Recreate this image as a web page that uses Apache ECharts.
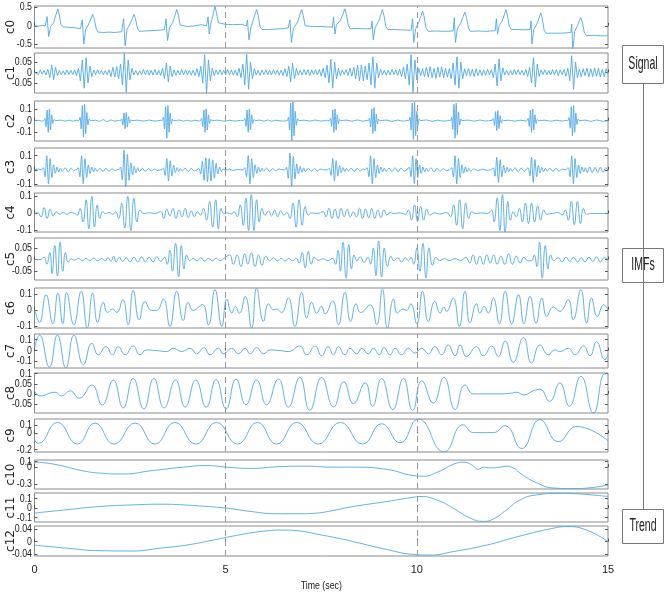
<!DOCTYPE html>
<html>
<head>
<meta charset="utf-8">
<script src="https://cdn.jsdelivr.net/npm/echarts@6/dist/echarts.min.js"></script>
<style>
  html, body { margin: 0; padding: 0; background: #fff; }
  #chart_div { width: 669px; height: 597px; }
</style>
</head>
<body>
<div id="chart_div"></div>
<script>
// 分量名称
var names = ['c0', 'c1', 'c2', 'c3', 'c4', 'c5', 'c6', 'c7', 'c8', 'c9', 'c10', 'c11', 'c12']

// c0 原始信号 [t, v]
var c0 = [[0,0.0],[0.1,-0.01],[0.2,0.01],[0.28,0.0],[0.33,0.25],[0.37,-0.29],[0.42,-0.02],[0.5,0.08],[0.56,0.3],[0.61,0.46],[0.65,0.3],[0.69,0.03],[0.75,-0.03],[0.9,-0.04],[1.05,-0.05],[1.2,-0.08],
  [1.25,0.16],[1.29,-0.49],[1.34,-0.1],[1.42,0.05],[1.48,0.2],[1.52,0.31],[1.56,0.2],[1.61,-0.06],[1.66,-0.17],[1.8,-0.18],[1.95,-0.17],[2.1,-0.18],[2.28,-0.16],
  [2.33,0.19],[2.37,-0.54],[2.42,-0.1],[2.5,0.05],[2.56,0.2],[2.6,0.31],[2.64,0.2],[2.69,-0.06],[2.74,-0.15],[2.9,-0.14],[3.1,-0.13],[3.25,-0.12],[3.4,-0.1],
  [3.44,0.19],[3.48,-0.4],[3.53,-0.05],[3.62,0.1],[3.68,0.3],[3.72,0.44],[3.76,0.3],[3.81,0.02],[3.86,-0.02],[4.0,-0.02],[4.2,0.0],[4.35,0.03],[4.5,0.0],
  [4.54,0.24],[4.57,-0.22],[4.61,0.05],[4.66,0.25],[4.72,0.53],[4.76,0.35],[4.81,0.08],[4.86,0.04],[5.0,0.04],[5.2,0.03],[5.4,0.04],[5.54,0.0],
  [5.57,0.15],[5.61,-0.38],[5.66,-0.05],[5.72,0.15],[5.77,0.32],[5.81,0.44],[5.85,0.28],[5.9,-0.02],[5.95,-0.1],[6.1,-0.1],[6.3,-0.09],[6.5,-0.08],[6.64,-0.05],
  [6.68,0.16],[6.72,-0.45],[6.77,-0.08],[6.88,0.1],[6.94,0.3],[6.99,0.44],[7.03,0.28],[7.08,0.0],[7.13,-0.02],[7.3,-0.02],[7.5,-0.02],[7.7,-0.03],[7.79,-0.04],
  [7.82,0.24],[7.86,-0.22],[7.9,0.03],[8.0,0.15],[8.07,0.32],[8.12,0.46],[8.16,0.3],[8.21,0.0],[8.26,-0.08],[8.4,-0.07],[8.6,-0.08],[8.8,-0.08],
  [8.83,0.13],[8.86,-0.38],[8.91,-0.05],[9.0,0.12],[9.06,0.3],[9.1,0.44],[9.14,0.28],[9.19,-0.02],[9.24,-0.1],[9.4,-0.1],[9.6,-0.11],[9.85,-0.12],
  [9.89,0.19],[9.92,-0.45],[9.97,-0.08],[10.05,0.1],[10.11,0.27],[10.15,0.4],[10.19,0.25],[10.24,-0.06],[10.3,-0.15],[10.5,-0.14],[10.7,-0.15],[10.95,-0.14],
  [10.98,0.22],[11.01,-0.45],[11.06,-0.08],[11.15,0.08],[11.21,0.25],[11.26,0.37],[11.3,0.22],[11.35,-0.06],[11.4,-0.15],[11.6,-0.14],[11.8,-0.15],[12.05,-0.13],
  [12.08,0.19],[12.11,-0.22],[12.15,0.0],[12.23,0.12],[12.29,0.3],[12.33,0.44],[12.37,0.28],[12.42,-0.02],[12.47,-0.1],[12.6,-0.1],[12.8,-0.11],[12.96,-0.1],
  [12.99,0.13],[13.01,-0.49],[13.06,-0.1],[13.14,0.05],[13.2,0.22],[13.24,0.35],[13.28,0.2],[13.33,-0.12],[13.38,-0.2],[13.6,-0.2],[13.8,-0.2],[14.03,-0.18],
  [14.05,0.05],[14.08,-0.63],[14.13,-0.15],[14.2,0.0],[14.25,0.14],[14.29,0.22],[14.33,0.1],[14.38,-0.18],[14.43,-0.26],[14.6,-0.26],[14.8,-0.27],[15.0,-0.27]]

// c1 等间隔采样 (步长 0.05 s)
var c1Step = 0.05
var c1 = [0,.008,-.01,.012,-.008,.01,-.012,.015,-.025,.035,-.035,.025,-.015,.01,-.012,.008,-.01,.012,-.009,.011,
  -.01,.012,-.015,.02,-.04,.06,-.075,.07,-.05,.03,-.02,.012,-.01,.013,-.008,.01,-.012,.009,-.011,.013,
  -.02,.025,-.022,.028,-.03,.04,-.06,.09,-.095,.06,-.035,.02,-.012,.01,-.013,.009,-.011,.014,-.01,.012,
  -.013,.01,-.012,.015,-.012,.01,-.014,.02,-.03,.045,-.045,.03,-.02,.012,-.014,.01,-.012,.015,-.011,.013,
  -.012,.01,-.013,.011,-.015,.018,-.02,.03,-.05,.085,-.1,.06,-.04,.02,-.015,.012,-.01,.013,-.011,.01,
  -.012,.014,-.01,.012,-.013,.011,-.015,.02,-.025,.04,-.06,.087,-.08,.05,-.03,.018,-.012,.01,-.014,.012,
  -.01,.013,-.011,.01,-.012,.014,-.01,.012,-.013,.011,-.015,.018,-.02,.03,-.045,.045,-.03,.02,-.013,.011,
  -.012,.014,-.011,.013,-.015,.012,-.01,.014,-.012,.015,-.018,.02,-.025,.035,-.05,.063,-.075,.05,-.03,.02,
  -.015,.012,-.01,.013,-.015,.02,-.018,.025,-.03,.035,-.04,.035,-.04,.03,-.035,.045,-.06,.075,-.075,.045,
  -.025,.015,-.012,.01,-.013,.011,-.012,.015,-.01,.012,-.014,.016,-.02,.025,-.03,.04,-.06,.085,-.095,.06,
  -.035,.02,-.015,.018,-.02,.025,-.022,.028,-.025,.02,-.028,.025,-.022,.027,-.025,.02,-.022,.018,-.03,.045,
  -.06,.075,-.075,.05,-.03,.018,-.015,.02,-.018,.015,-.02,.018,-.015,.012,-.014,.011,-.013,.015,-.012,.014,
  -.025,.04,-.065,.065,-.04,.022,-.012,.01,-.013,.011,-.012,.014,-.01,.013,-.011,.01,-.014,.015,-.02,.025,
  -.05,.07,-.07,.04,-.02,.012,-.01,.013,-.011,.01,-.012,.014,-.011,.013,-.015,.012,-.01,.014,-.018,.02,
  -.04,.08,-.08,.05,-.025,.015,-.02,.018,-.015,.02,-.022,.018,-.02,.022,-.018,.02,-.022,.015,-.02,.018,-.01]

var c2 = [[0,0],[0.1,.003],[0.18,-.003],
  [0.24,0],[0.27,.02],[0.3,-.05],[0.33,.09],[0.36,-.1],[0.39,.1],[0.42,-.08],[0.45,.05],[0.48,-.025],[0.51,.01],[0.54,0],
  [0.7,.005],[0.8,-.005],[0.9,.004],[1.0,-.004],[1.1,.003],
  [1.16,0],[1.19,.03],[1.22,-.07],[1.25,.13],[1.28,-.14],[1.31,.14],[1.34,-.11],[1.37,.07],[1.4,-.035],[1.43,.015],[1.46,0],
  [1.6,.004],[1.7,-.006],[1.8,.008],[1.9,-.008],[2.0,.006],[2.1,-.004],[2.2,.002],
  [2.25,0],[2.28,.015],[2.31,-.035],[2.34,.065],[2.37,-.07],[2.4,.07],[2.43,-.055],[2.46,.035],[2.49,-.018],[2.52,.007],[2.55,0],
  [2.7,.004],[2.85,-.004],[3.0,.005],[3.15,-.004],[3.3,.003],
  [3.34,0],[3.37,.03],[3.4,-.07],[3.43,.12],[3.46,-.15],[3.49,.13],[3.52,-.1],[3.55,.065],[3.58,-.03],[3.61,.012],[3.64,0],
  [3.8,.005],[3.9,-.005],[4.0,.004],[4.1,-.005],[4.2,.004],[4.3,-.003],
  [4.34,0],[4.37,.02],[4.4,-.05],[4.43,.09],[4.46,-.1],[4.49,.1],[4.52,-.08],[4.55,.05],[4.58,-.025],[4.61,.01],[4.64,0],
  [4.8,.004],[4.95,-.005],[5.1,.004],[5.25,-.004],[5.4,.003],
  [5.47,0],[5.5,.02],[5.53,-.05],[5.56,.09],[5.59,-.1],[5.62,.1],[5.65,-.08],[5.68,.05],[5.71,-.025],[5.74,.01],[5.77,0],
  [5.9,.005],[6.0,-.005],[6.1,.006],[6.2,-.005],[6.3,.004],[6.45,-.003],
  [6.61,0],[6.64,.03],[6.67,-.08],[6.7,.15],[6.73,-.17],[6.76,.16],[6.79,-.13],[6.82,.08],[6.85,-.04],[6.88,.016],[6.91,0],
  [7.05,.004],[7.2,-.004],[7.35,.005],[7.5,-.004],[7.62,.003],
  [7.71,0],[7.74,.02],[7.77,-.05],[7.8,.09],[7.83,-.1],[7.86,.1],[7.89,-.08],[7.92,.05],[7.95,-.025],[7.98,.01],[8.01,0],
  [8.15,.005],[8.3,-.005],[8.45,.006],[8.6,-.005],[8.7,.003],
  [8.73,0],[8.76,.022],[8.79,-.055],[8.82,.1],[8.85,-.11],[8.88,.11],[8.91,-.09],[8.94,.055],[8.97,-.028],[9.0,.011],[9.03,0],
  [9.2,.005],[9.35,-.006],[9.5,.005],[9.65,-.005],[9.75,.003],
  [9.79,0],[9.82,.03],[9.85,-.08],[9.88,.15],[9.91,-.16],[9.94,.16],[9.97,-.13],[10.0,.08],[10.03,-.04],[10.06,.016],[10.09,0],
  [10.25,.006],[10.4,-.006],[10.55,.005],[10.7,-.005],[10.85,.003],
  [10.88,0],[10.91,.03],[10.94,-.075],[10.97,.14],[11.0,-.15],[11.03,.15],[11.06,-.12],[11.09,.075],[11.12,-.038],[11.15,.015],[11.18,0],
  [11.35,.005],[11.5,-.005],[11.65,.005],[11.8,-.004],[11.95,.003],
  [11.97,0],[12.0,.017],[12.03,-.043],[12.06,.077],[12.09,-.085],[12.12,.085],[12.15,-.068],[12.18,.043],[12.21,-.021],[12.24,.009],[12.27,0],
  [12.4,.004],[12.55,-.004],[12.7,.004],[12.85,-.003],
  [12.88,0],[12.91,.02],[12.94,-.05],[12.97,.09],[13.0,-.1],[13.03,.1],[13.06,-.08],[13.09,.05],[13.12,-.025],[13.15,.01],[13.18,0],
  [13.35,.004],[13.5,-.005],[13.65,.004],[13.8,-.004],[13.93,.003],
  [13.95,0],[13.98,.026],[14.01,-.065],[14.04,.12],[14.07,-.13],[14.1,.13],[14.13,-.1],[14.16,.065],[14.19,-.033],[14.22,.013],[14.25,0],
  [14.4,.005],[14.55,-.006],[14.7,.006],[14.85,-.005],[15,0]]

var c3 = [[0,0],[0.1,.005],[0.185,0],[0.23,.015],[0.275,-.05],[0.32,.1],[0.365,-.1],[0.41,.08],[0.455,-.055],[0.5,.035],[0.545,-.025],[0.59,.02],[0.635,-.015],[0.68,.012],[0.725,-.01],
  [0.8,.015],[0.88,-.015],[0.96,.012],[1.03,-.008],[1.07,0],
  [1.095,0],[1.14,.015],[1.185,-.05],[1.23,.1],[1.275,-.1],[1.32,.08],[1.365,-.055],[1.41,.035],[1.455,-.025],[1.5,.02],[1.545,-.015],[1.59,.012],[1.635,-.01],
  [1.71,.012],[1.79,-.012],[1.87,.01],[1.95,-.01],[2.03,.008],[2.11,-.006],[2.19,.004],
  [2.205,0],[2.25,.02],[2.295,-.07],[2.34,.14],[2.385,-.13],[2.43,.11],[2.475,-.075],[2.52,.05],[2.565,-.035],[2.61,.025],[2.655,-.02],[2.7,.015],[2.745,-.012],
  [2.82,.01],[2.9,-.01],[2.98,.008],[3.06,-.008],[3.14,.006],[3.22,-.005],[3.3,0],
  [3.325,0],[3.37,.012],[3.415,-.04],[3.46,.08],[3.505,-.08],[3.55,.065],[3.595,-.045],[3.64,.03],[3.685,-.02],[3.73,.016],[3.775,-.012],[3.82,.01],[3.865,-.008],
  [3.94,.012],[4.02,-.012],[4.1,.01],[4.18,-.008],[4.25,0],
  [4.3,.01],[4.345,-.03],[4.39,.06],[4.435,-.075],[4.48,.085],[4.525,-.085],[4.57,.08],[4.615,-.08],[4.66,.07],[4.705,-.06],[4.75,.045],[4.795,-.03],[4.84,.02],[4.885,-.012],[4.93,.006],
  [5.0,0],[5.1,.004],[5.2,-.004],[5.3,.003],[5.4,0],
  [5.455,0],[5.5,.015],[5.545,-.05],[5.59,.1],[5.635,-.1],[5.68,.08],[5.725,-.055],[5.77,.035],[5.815,-.025],[5.86,.02],[5.905,-.015],[5.95,.012],[5.995,-.01],
  [6.07,.012],[6.15,-.012],[6.23,.01],[6.31,-.008],[6.39,.006],[6.47,0],
  [6.545,0],[6.59,.018],[6.635,-.06],[6.68,.12],[6.725,-.12],[6.77,.095],[6.815,-.065],[6.86,.042],[6.905,-.03],[6.95,.024],[6.995,-.018],[7.04,.014],[7.085,-.012],
  [7.16,.01],[7.24,-.01],[7.32,.008],[7.4,-.006],[7.48,.005],[7.56,0],
  [7.665,0],[7.71,.012],[7.755,-.04],[7.8,.08],[7.845,-.08],[7.89,.065],[7.935,-.045],[7.98,.03],[8.025,-.02],[8.07,.016],[8.115,-.012],[8.16,.01],[8.205,-.008],
  [8.28,.012],[8.36,-.012],[8.44,.01],[8.52,-.008],[8.6,.005],[8.65,0],
  [8.655,0],[8.7,.015],[8.745,-.05],[8.79,.1],[8.835,-.1],[8.88,.08],[8.925,-.055],[8.97,.035],[9.015,-.025],[9.06,.02],[9.105,-.015],[9.15,.012],[9.195,-.01],
  [9.27,.012],[9.35,-.012],[9.43,.015],[9.51,-.015],[9.59,.012],[9.67,-.01],[9.74,0],
  [9.755,0],[9.8,.02],[9.845,-.05],[9.89,.1],[9.935,-.1],[9.98,.08],[10.025,-.055],[10.07,.035],[10.115,-.025],[10.16,.02],[10.205,-.015],[10.25,.012],[10.295,-.01],
  [10.37,.015],[10.45,-.015],[10.53,.012],[10.61,-.01],[10.69,.008],[10.77,-.005],[10.86,0],
  [10.865,0],[10.91,.015],[10.955,-.05],[11.0,.1],[11.045,-.1],[11.09,.08],[11.135,-.055],[11.18,.035],[11.225,-.025],[11.27,.02],[11.315,-.015],[11.36,.012],[11.405,-.01],
  [11.48,.006],[11.6,-.005],[11.72,.005],[11.84,-.004],[11.95,0],
  [11.955,0],[12.0,.014],[12.045,-.045],[12.09,.09],[12.135,-.09],[12.18,.072],[12.225,-.05],[12.27,.032],[12.315,-.022],[12.36,.018],[12.405,-.014],[12.45,.011],[12.495,-.009],
  [12.57,.015],[12.65,-.015],[12.73,.012],[12.81,-.01],[12.85,0],
  [12.865,0],[12.91,.014],[12.955,-.045],[13.0,.09],[13.045,-.09],[13.09,.072],[13.135,-.05],[13.18,.032],[13.225,-.022],[13.27,.018],[13.315,-.014],[13.36,.011],[13.405,-.009],
  [13.48,.012],[13.56,-.012],[13.64,.01],[13.72,-.008],[13.8,.005],[13.9,0],
  [13.915,0],[13.96,.015],[14.005,-.05],[14.05,.1],[14.095,-.1],[14.14,.08],[14.185,-.055],[14.23,.035],[14.275,-.025],[14.32,.02],[14.365,-.015],[14.41,.015],[14.455,-.02],
  [14.52,.02],[14.59,-.02],[14.66,.018],[14.73,-.02],[14.8,.02],[14.87,-.018],[14.94,.015],[15,0]]

var c4 = [[0,0],[0.08,0.005],[0.17,-0.02],[0.25,0.035],[0.33,-0.03],[0.41,0.025],[0.49,-0.015],[0.57,0.01],[0.65,-0.005],[0.75,0.005],[0.85,-0.005],[0.95,0.005],[1.05,0.0],
  [1.12,-0.01],[1.19,0.03],[1.27,-0.05],[1.35,0.08],[1.42,-0.09],[1.5,0.1],[1.57,-0.08],[1.64,0.05],[1.71,-0.03],[1.78,0.01],[1.86,0.0],[1.95,0.005],[2.05,-0.005],[2.12,0.01],
  [2.2,-0.03],[2.28,0.06],[2.36,-0.085],[2.44,0.1],[2.52,-0.1],[2.6,0.09],[2.68,-0.05],[2.76,0.02],[2.85,0.0],[3.0,0.003],[3.15,0.0],
  [3.3,0.01],[3.38,-0.03],[3.46,0.025],[3.54,-0.015],[3.62,0.03],[3.7,-0.03],[3.78,0.02],[3.86,-0.02],[3.94,0.03],[4.02,-0.025],[4.1,0.015],[4.18,-0.02],[4.26,0.01],[4.34,-0.01],
  [4.42,0.03],[4.5,-0.04],[4.58,0.07],[4.66,-0.08],[4.74,0.08],[4.81,-0.09],[4.88,0.03],[4.95,0.0],[5.05,0.003],[5.15,-0.003],[5.22,0.01],
  [5.3,-0.02],[5.38,0.05],[5.46,-0.07],[5.53,0.09],[5.6,-0.1],[5.67,0.11],[5.74,-0.1],[5.81,0.08],[5.88,-0.05],[5.95,0.03],[6.03,-0.01],
  [6.12,0.015],[6.2,-0.015],[6.28,0.02],[6.36,-0.02],[6.44,0.015],[6.52,-0.01],[6.6,0.005],
  [6.68,-0.03],[6.76,0.06],[6.84,-0.08],[6.92,0.08],[7.0,-0.07],[7.08,0.04],[7.16,-0.01],[7.25,0.003],[7.4,0.0],[7.55,0.01],
  [7.62,-0.02],[7.7,0.03],[7.78,-0.03],[7.86,0.025],[7.94,-0.03],[8.02,0.03],[8.1,-0.02],[8.18,0.025],[8.26,-0.02],[8.34,0.01],
  [8.42,-0.02],[8.5,0.03],[8.58,-0.03],[8.66,0.025],[8.74,-0.025],[8.82,0.03],[8.9,-0.03],[8.98,0.02],[9.06,-0.025],[9.14,0.02],[9.22,-0.01],[9.3,0.005],
  [9.4,0.0],[9.55,0.003],[9.7,-0.005],
  [9.78,0.02],[9.86,-0.04],[9.94,0.05],[10.02,-0.045],[10.1,0.04],[10.18,-0.04],[10.26,0.025],[10.34,-0.01],
  [10.45,0.003],[10.6,-0.003],[10.78,0.005],
  [10.88,-0.02],[10.96,0.05],[11.04,-0.07],[11.12,0.08],[11.2,-0.09],[11.28,0.06],[11.36,-0.03],[11.44,0.01],
  [11.55,0.0],[11.7,0.003],[11.85,0.0],
  [11.95,0.02],[12.02,-0.05],[12.1,0.09],[12.17,-0.1],[12.24,0.11],[12.31,-0.11],[12.38,0.07],[12.45,-0.04],[12.52,0.01],
  [12.6,-0.02],[12.68,0.03],[12.76,-0.05],[12.84,0.06],[12.92,-0.06],[13.0,0.06],[13.08,-0.05],[13.16,0.045],[13.24,-0.04],[13.32,0.02],[13.4,-0.005],
  [13.55,0.0],[13.7,0.005],[13.8,-0.01],
  [13.88,0.02],[13.96,-0.04],[14.04,0.07],[14.12,-0.065],[14.2,0.07],[14.28,-0.06],[14.36,0.03],[14.44,-0.005],[14.55,0.0],[15,0.0]]

var c5 = [[0,0],[0.15,0],[0.25,0.01],[0.32,-0.02],[0.4,0.03],[0.46,-0.06],[0.53,0.06],[0.6,-0.07],[0.67,0.075],[0.74,-0.05],[0.81,0.03],[0.88,-0.01],[0.96,0.003],
  [1.05,-0.003],[1.15,0.005],[1.25,-0.005],[1.35,0.005],[1.45,-0.005],[1.55,0.006],[1.65,-0.006],[1.75,0.004],[1.85,-0.005],
  [1.92,0.008],[2.0,-0.008],[2.07,0.015],[2.14,-0.01],[2.22,0.01],[2.3,-0.008],[2.4,0.008],[2.5,-0.01],[2.6,0.01],[2.7,-0.01],[2.8,0.012],[2.9,-0.01],[3.0,0.01],[3.1,-0.01],[3.2,0.012],[3.3,-0.008],
  [3.4,0.01],[3.47,-0.02],[3.54,0.04],[3.61,-0.05],[3.69,0.07],[3.77,-0.075],[3.84,0.06],[3.91,-0.04],[3.98,0.02],[4.06,-0.005],
  [4.15,0.006],[4.25,-0.006],[4.35,0.008],[4.45,-0.006],[4.55,0.005],[4.65,-0.006],[4.75,0.006],[4.85,-0.005],[4.95,0.004],
  [5.1,0.02],[5.2,-0.02],[5.3,0.02],[5.4,-0.03],[5.5,0.025],[5.58,-0.02],[5.67,0.03],[5.77,-0.03],[5.86,0.02],[5.95,-0.025],[6.05,0.015],
  [6.15,-0.005],[6.25,0.008],[6.35,-0.005],[6.45,0.005],[6.55,-0.006],[6.65,0.005],[6.75,-0.005],[6.85,0.005],
  [6.92,-0.015],[7.0,0.03],[7.08,-0.035],[7.16,0.035],[7.24,-0.02],[7.32,0.01],[7.42,-0.003],[7.55,0.003],[7.68,-0.004],
  [7.8,0.005],[7.87,-0.02],[7.94,0.04],[8.0,-0.05],[8.07,0.075],[8.15,-0.08],[8.22,0.065],[8.29,-0.04],[8.36,0.02],[8.43,-0.005],
  [8.52,0.012],[8.62,-0.012],[8.72,0.01],
  [8.79,-0.02],[8.86,0.05],[8.93,-0.07],[9.0,0.08],[9.08,-0.075],[9.15,0.05],[9.23,-0.03],[9.32,0.015],[9.4,-0.005],
  [9.5,0.008],[9.6,-0.01],[9.7,0.008],[9.78,-0.005],
  [9.85,0.01],[9.92,-0.02],[10.0,0.05],[10.08,-0.05],[10.16,0.07],[10.24,-0.08],[10.32,0.05],[10.41,-0.025],[10.5,0.01],[10.6,-0.005],
  [10.72,0.004],[10.85,-0.004],[11.0,0.004],[11.15,-0.004],[11.28,0.01],
  [11.38,-0.015],[11.47,0.02],[11.56,-0.02],[11.65,0.015],[11.74,-0.02],[11.83,0.02],[11.92,-0.015],[12.01,0.02],[12.1,-0.02],[12.2,0.015],[12.3,-0.02],[12.4,0.025],[12.5,-0.02],[12.6,0.015],[12.7,-0.015],[12.8,0.01],[12.9,-0.005],
  [13.0,-0.005],[13.07,0.02],[13.14,-0.03],[13.21,0.075],[13.28,-0.08],[13.36,0.06],[13.43,-0.04],[13.5,0.02],[13.58,-0.005],
  [13.7,0.008],[13.8,-0.01],[13.9,0.01],[14.0,-0.008],[14.1,0.01],[14.2,-0.01],[14.3,0.008],[14.4,-0.01],[14.5,0.01],[14.6,-0.008],[14.7,0.012],[14.8,-0.01],[14.9,0.008],[15,0.0]]

var c6 = [[0.01,0],[0.13,-0.079],[0.3,0.094],[0.48,-0.0875],[0.61,0.104],[0.74,-0.0875],[0.84,0.108],[1.03,-0.094],[1.22,0.115],[1.38,-0.115],[1.52,0.104],[1.65,-0.079],
  [1.8,0.046],[1.91,-0.017],[2.04,0.004],[2.15,-0.017],[2.31,0.0625],[2.45,-0.094],[2.58,0.121],[2.74,-0.0625],[2.89,0.052],[3.06,-0.004],[3.19,-0.004],
  [3.37,0.067],[3.54,-0.104],[3.72,0.115],[3.89,-0.067],[4.02,0.046],[4.15,-0.004],[4.39,0.033],[4.55,-0.094],[4.72,0.125],[4.9,-0.104],[5.03,0.067],
  [5.16,-0.021],[5.25,0.021],[5.36,-0.021],[5.51,0.083],[5.68,-0.115],[5.81,0.135],[5.99,-0.073],[6.12,0.0375],[6.25,0],[6.33,0.004],[6.46,-0.017],
  [6.64,0.073],[6.81,-0.104],[6.99,0.108],[7.12,-0.052],[7.25,0.046],[7.38,-0.021],[7.51,0.021],[7.6,-0.025],[7.8,0.056],[7.95,-0.094],[8.12,0.108],
  [8.27,-0.073],[8.41,0.0375],[8.53,-0.017],[8.78,0.031],[8.95,-0.094],[9.1,0.129],[9.23,-0.115],[9.39,0.067],[9.49,-0.021],[9.63,0.004],[9.73,-0.004],
  [9.84,0.0375],[10.0,-0.0875],[10.15,0.115],[10.3,-0.073],[10.47,0.052],[10.61,-0.021],[10.71,0.017],[10.78,-0.01],[10.95,0.073],[11.11,-0.104],
  [11.26,0.115],[11.39,-0.083],[11.56,0.0375],[11.65,-0.021],[11.76,0.021],[11.87,-0.021],[12.0,0.073],[12.16,-0.0875],[12.31,0.115],[12.48,-0.0875],
  [12.66,0.094],[12.8,-0.0875],[12.96,0.083],[13.12,-0.083],[13.27,0.073],[13.4,-0.042],[13.57,0.017],[13.74,-0.01],[13.96,0.0625],[14.09,-0.0625],
  [14.29,0.125],[14.44,-0.083],[14.57,0.073],[14.72,-0.042],[14.89,0.031],[15.0,0]]

var c7 = [[0,0.02],[0.13,0.142],[0.39,-0.152],[0.6,0.142],[0.82,-0.16],[1.03,0.142],[1.28,-0.13],[1.5,0.067],[1.67,-0.039],[1.87,0.036],[2.04,-0.039],
  [2.19,0.036],[2.37,-0.039],[2.58,0.042],[2.76,-0.039],[2.93,0.006],[3.19,0],[3.46,-0.009],[3.63,0.021],[3.85,-0.009],[4.07,0.021],[4.24,-0.03],
  [4.43,0.027],[4.59,-0.039],[4.81,0.021],[4.94,-0.03],[5.16,0.021],[5.33,-0.03],[5.51,0.021],[5.64,-0.03],[5.81,0.027],[5.99,-0.03],[6.16,0.006],
  [6.42,0],[6.64,-0.009],[6.94,0.042],[7.12,-0.039],[7.34,0.042],[7.51,-0.048],[7.68,0.036],[7.82,-0.039],[7.95,0.036],[8.12,-0.039],[8.25,0.021],
  [8.43,-0.03],[8.56,0.021],[8.73,-0.03],[8.86,0.021],[9.02,-0.039],[9.14,0.027],[9.3,-0.039],[9.43,0.021],[9.6,-0.039],[9.78,0.021],[9.95,-0.024],
  [10.13,0.021],[10.3,-0.03],[10.47,0.036],[10.65,-0.039],[10.82,0.052],[11.0,-0.048],[11.13,0.052],[11.3,-0.055],[11.56,0.036],[11.74,-0.048],
  [11.96,0.042],[12.13,-0.055],[12.31,0.088],[12.52,-0.109],[12.79,0.121],[13.0,-0.115],[13.22,0.052],[13.44,-0.039],[13.61,0.006],[13.74,-0.009],
  [13.96,0.021],[14.14,-0.039],[14.36,0.042],[14.53,-0.048],[14.7,0.082],[14.92,-0.085],[15.0,-0.039]]

var c8 = [[0,0.016],[0.14,-0.01],[0.54,0.008],[0.71,-0.01],[0.93,0.015],[1.17,-0.021],[1.5,0.044],[1.77,-0.055],[2.06,0.068],[2.32,-0.069],[2.58,0.076],
  [2.86,-0.074],[3.12,0.076],[3.39,-0.069],[3.69,0.068],[3.94,-0.065],[4.22,0.068],[4.49,-0.065],[4.75,0.071],[5.01,-0.074],[5.27,0.073],[5.53,-0.053],
  [5.81,0.068],[6.07,-0.053],[6.38,0.073],[6.64,-0.065],[6.94,0.081],[7.2,-0.081],[7.51,0.081],[7.82,-0.065],[8.09,0.06],[8.34,-0.048],[8.65,0.055],
  [8.84,-0.061],[9.08,0.076],[9.37,-0.077],[9.65,0.076],[9.89,-0.081],[10.13,0.065],[10.43,-0.045],[10.71,0.081],[11.0,-0.077],[11.26,0.044],[11.48,0],
  [11.83,0],[12.18,0],[12.44,0.003],[12.61,0.008],[12.8,-0.005],[13.05,0.016],[13.22,0.023],[13.47,-0.037],[13.74,0.055],[13.99,-0.061],[14.29,0.087],
  [14.62,-0.094],[14.92,0.1],[15.0,0.1]]

var c9 = [[0,-0.083],[0.1,-0.125],[0.6,0.133],[1.12,-0.133],[1.58,0.125],[2.08,-0.133],[2.63,0.125],[3.15,-0.133],[3.67,0.133],[4.22,-0.133],[4.76,0.133],
  [5.31,-0.133],[5.83,0.133],[6.33,-0.133],[6.86,0.133],[7.42,-0.133],[8.0,0.133],[8.58,-0.133],[9.08,0.117],[9.56,-0.117],[10.04,0.175],[10.71,-0.229],
  [11.21,0.104],[11.48,0.008],[12.0,0.008],[12.31,0.092],[12.74,-0.1875],[13.22,0.167],[13.7,-0.104],[14.18,0.083],[15.0,-0.092]]

var c10 = [[0,0.089],[0.49,0.056],[1.28,-0.067],[1.71,-0.106],[2.32,-0.122],[3.02,-0.067],[3.89,0],[4.5,0.028],[5.03,0],[5.64,-0.022],[6.33,0.006],
  [7.12,0.017],[7.82,0],[8.34,0],[9.21,-0.039],[9.91,-0.15],[10.17,-0.161],[10.52,-0.094],[11.04,0.072],[11.21,0.089],[11.43,0.044],[11.61,-0.039],
  [11.74,0],[11.87,-0.011],[12.04,-0.011],[12.35,0.017],[12.48,0],[12.79,-0.15],[13.13,-0.278],[13.57,-0.372],[14.09,-0.383],[14.62,-0.361],[15.0,-0.317]]

var c11 = [[0,-0.052],[0.84,-0.017],[1.71,0.017],[2.58,0.034],[3.28,0.041],[3.89,0.034],[4.5,0.017],[5.03,0],[5.64,-0.034],[6.33,-0.059],[6.94,-0.059],
  [7.38,-0.052],[7.82,-0.024],[8.34,0.017],[9.21,0.069],[9.91,0.114],[10.08,0.121],[10.52,0.086],[10.95,0],[11.39,-0.103],[11.74,-0.138],[12.0,-0.114],
  [12.35,-0.017],[12.7,0.086],[13.13,0.138],[13.74,0.155],[14.27,0.148],[15.0,0.121]]

var c12 = [[0,-0.011],[0.84,-0.021],[1.71,-0.029],[2.58,-0.03],[3.28,-0.021],[3.98,-0.011],[4.68,0.005],[5.2,0.018],[5.9,0.032],[6.51,0.037],[6.94,0.034],
  [7.47,0.022],[7.9,0.012],[8.34,0],[9.21,-0.025],[9.91,-0.041],[10.34,-0.043],[10.95,-0.032],[11.83,-0.011],[12.7,0.018],[13.57,0.043],[13.92,0.048],
  [14.44,0.037],[15.0,0]]

// 各子图纵轴范围与刻度
var yMin = [-0.6, -0.098, -0.174, -0.115, -0.109, -0.088, -0.114, -0.161, -0.094, -0.23, -0.39, -0.145, -0.046]
var yMax = [0.535, 0.093, 0.168, 0.155, 0.12, 0.093, 0.136, 0.153, 0.103, 0.175, 0.128, 0.158, 0.05]
var yTicks = [[-0.5, 0, 0.5], [-0.05, 0, 0.05], [-0.1, 0, 0.1], [-0.1, 0, 0.1], [-0.1, 0, 0.1], [-0.05, 0, 0.05],
  [-0.1, 0, 0.1], [-0.1, 0, 0.1], [-0.05, 0, 0.05, 0.1], [-0.2, 0, 0.1], [-0.3, 0, 0.1], [-0.1, 0, 0.1], [-0.04, 0, 0.04]]
var dashedAt = [5, 10]

// 布局
var gridTop = [6, 53, 101, 148, 193, 238, 288, 334, 373, 419, 460, 493, 526]
var gridHeight = [42, 40, 40, 38, 39, 42, 40, 34, 40, 33, 29, 29, 30]

var FONT = "'Liberation Sans', Arial, sans-serif"
var LINE = '#4ea8e6'
var BOX = '#8a8a8a'
var TXT = '#222'

function pairs(arr, step) {
  var out = []
  for (var i = 0; i < arr.length; i++) out.push([i * step, arr[i]])
  return out
}

var seriesData = [c0, pairs(c1, c1Step), c2, c3, c4, c5, c6, c7, c8, c9, c10, c11, c12]
var smoothFlag = [false, false, 0.3, 0.3, 0.5, 0.5, 0.5, 0.5, 0.5, 0.5, 0.5, 0.5, 0.5]

function fmt(v) {
  return String(+Number(v).toFixed(3))
}

var grids = [], xAxes = [], yAxes = [], series = []
for (var i = 0; i < names.length; i++) {
  var last = i === names.length - 1
  grids.push({
    left: 34.5, right: 61, top: gridTop[i], height: gridHeight[i],
    containLabel: false, outerBoundsMode: 'none',
    show: true, borderColor: BOX, borderWidth: 1, backgroundColor: '#fff'
  })
  xAxes.push({
    type: 'value', gridIndex: i, min: 0, max: 15, interval: 5,
    axisLine: { show: false },
    axisTick: { show: true, inside: true, length: 3, lineStyle: { color: '#555' } },
    axisLabel: { show: last, margin: 8, fontFamily: FONT, fontSize: 11, color: TXT, formatter: fmt },
    splitLine: { show: false }
  })
  yAxes.push({
    type: 'value', gridIndex: i, min: yMin[i], max: yMax[i], position: 'left',
    axisLine: { show: false },
    axisTick: { show: true, inside: true, length: 3, customValues: yTicks[i], lineStyle: { color: '#555' } },
    axisLabel: { show: false },
    splitLine: { show: false }
  })
}
for (var j = 0; j < names.length; j++) {
  yAxes.push({
    type: 'value', gridIndex: j, min: yMin[j], max: yMax[j], position: 'right',
    axisLine: { show: false },
    axisTick: { show: true, inside: true, length: 3, customValues: yTicks[j], lineStyle: { color: '#555' } },
    axisLabel: { show: false },
    splitLine: { show: false }
  })
  series.push({
    type: 'line', name: names[j], xAxisIndex: j, yAxisIndex: j,
    data: seriesData[j], showSymbol: false, symbol: 'none', smooth: smoothFlag[j],
    lineStyle: { color: LINE, width: 0.9 }, itemStyle: { color: LINE },
    animation: false, silent: true,
    markLine: {
      silent: true, symbol: ['none', 'none'], animation: false,
      label: { show: false },
      lineStyle: { color: '#9a9a9a', type: [6, 4], width: 1 },
      data: dashedAt.map(function (x) { return { xAxis: x } })
    }
  })
}

var myChart = echarts.init(document.getElementById('chart_div'), null, { renderer: 'canvas' })
myChart.setOption({
  animation: false,
  grid: grids,
  xAxis: xAxes,
  yAxis: yAxes,
  series: series
})

// 纵轴刻度文字与分量名（位置取自坐标轴换算）
var graphics = []
for (var k = 0; k < names.length; k++) {
  yTicks[k].forEach(function (v) {
    var py = myChart.convertToPixel({ yAxisIndex: k }, v)
    graphics.push({
      type: 'text', x: 32, y: py, scaleX: 0.8, silent: true,
      style: { text: fmt(v), fontFamily: FONT, fontSize: 11, fill: TXT, align: 'right', verticalAlign: 'middle' }
    })
  })
  graphics.push({
    type: 'text', x: 10.5, y: gridTop[k] + gridHeight[k] / 2, rotation: Math.PI / 2, silent: true,
    style: { text: names[k], fontFamily: 'DejaVu Sans', fontSize: 12, fill: TXT, align: 'center', verticalAlign: 'middle' }
  })
}
graphics.push({
  type: 'text', x: myChart.convertToPixel({ xAxisIndex: names.length - 1 }, 7.5), y: 586, scaleX: 0.8, silent: true,
  style: { text: 'Time (sec)', fontFamily: FONT, fontSize: 11, fill: TXT, align: 'center', verticalAlign: 'middle' }
})

// 右侧标签框
function tagBox(label, top, h) {
  return {
    type: 'group', z: 2, children: [
      { type: 'rect', shape: { x: 622.5, y: top, width: 41, height: h }, style: { fill: '#fff', stroke: '#777', lineWidth: 1 } },
      { type: 'text', x: 643, y: top + h / 2, scaleX: 0.62, scaleY: 1.05,
        style: { text: label, fontFamily: FONT, fontSize: 17, fill: TXT, align: 'center', verticalAlign: 'middle' } }
    ]
  }
}
graphics.push({ type: 'line', shape: { x1: 643.5, y1: 84, x2: 643.5, y2: 509 }, style: { stroke: '#777', lineWidth: 1 }, z: 1 })
graphics.push(tagBox('Signal', 45.5, 38))
graphics.push(tagBox('IMFs', 248.5, 34))
graphics.push(tagBox('Trend', 509.5, 34))

myChart.setOption({ graphic: graphics })
</script>
</body>
</html>
